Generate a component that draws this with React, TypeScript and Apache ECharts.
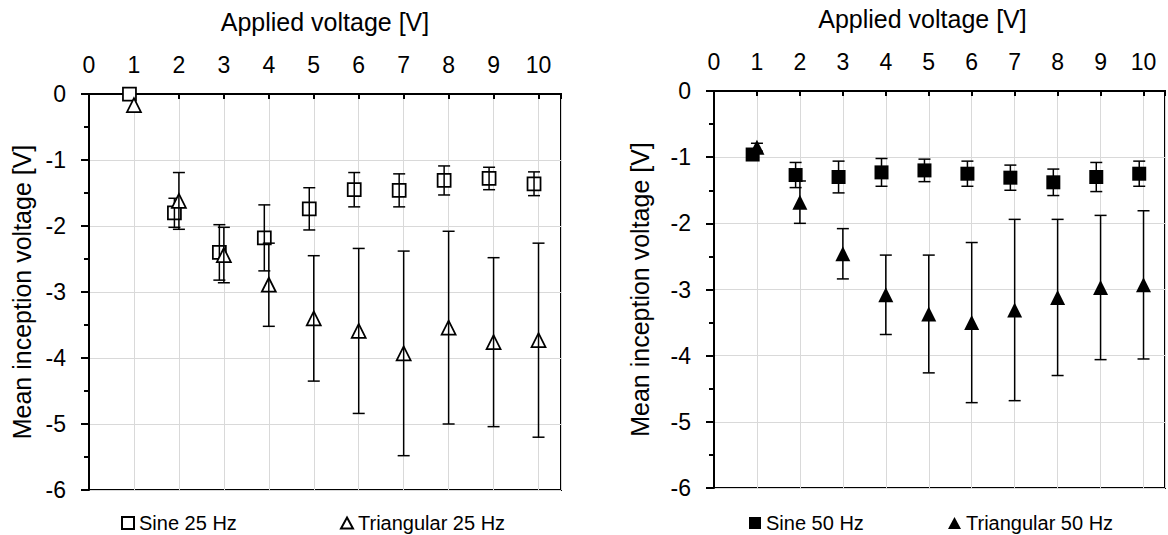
import React, { useEffect, useRef } from "react";
import * as echarts from "echarts";

// ---- data ----
const voltages = [1, 2, 3, 4, 5, 6, 7, 8, 9, 10];
const xTickLabels = ["0", "1", "2", "3", "4", "5", "6", "7", "8", "9", "10"];

const sine25Mean = [0, -1.8, -2.4, -2.18, -1.74, -1.45, -1.46, -1.31, -1.28, -1.36];
const sine25Err = [0, 0.22, 0.42, 0.5, 0.32, 0.26, 0.25, 0.22, 0.17, 0.18];
const tri25Mean = [-0.17, -1.62, -2.44, -2.89, -3.4, -3.59, -3.93, -3.54, -3.76, -3.73];
const tri25Err = [0, 0.43, 0.42, 0.63, 0.95, 1.25, 1.55, 1.46, 1.28, 1.47];

const sine50Mean = [-0.96, -1.27, -1.3, -1.23, -1.2, -1.25, -1.31, -1.38, -1.3, -1.25];
const sine50Err = [0.05, 0.19, 0.24, 0.21, 0.17, 0.19, 0.19, 0.2, 0.22, 0.19];
const tri50Mean = [-0.85, -1.68, -2.46, -3.08, -3.37, -3.5, -3.31, -3.12, -2.97, -2.93];
const tri50Err = [0.06, 0.32, 0.38, 0.6, 0.89, 1.21, 1.37, 1.18, 1.09, 1.12];

// sine markers are drawn slightly left of each applied voltage
const SINE_SHIFT = -0.1;

const FONT = "'Liberation Sans', Arial, Helvetica, sans-serif";
const GRID_COLOR = "#d9d9d9";

function makeX(gridIndex: number, nameGap: number, namePadRight: number) {
  return {
    type: "value",
    gridIndex,
    position: "top",
    min: 0,
    max: 10.5,
    interval: 1,
    name: "Applied voltage [V]",
    nameLocation: "middle",
    nameGap,
    nameTextStyle: { fontSize: 25, color: "#000", fontFamily: FONT, padding: [0, namePadRight, 0, 0] },
    axisLine: { show: true, onZero: false, lineStyle: { color: "#000", width: 2 } },
    axisTick: { show: true, inside: true, length: 5, lineStyle: { color: "#000", width: 2 } },
    axisLabel: {
      fontSize: 23,
      color: "#000",
      fontFamily: FONT,
      margin: 18,
      formatter: (v: number) => (Number.isInteger(v) ? xTickLabels[v] ?? "" : ""),
    },
    splitLine: { show: true, lineStyle: { color: GRID_COLOR, width: 1 } },
  };
}

function makeY(gridIndex: number, nameGap: number) {
  return {
    type: "value",
    gridIndex,
    min: -6,
    max: 0,
    interval: 1,
    name: "Mean inception voltage [V]",
    nameLocation: "middle",
    nameGap,
    nameRotate: 90,
    nameTextStyle: { fontSize: 25, color: "#000", fontFamily: FONT },
    axisLine: { show: true, onZero: false, lineStyle: { color: "#000", width: 2 } },
    axisTick: { show: true, length: 8, lineStyle: { color: "#000", width: 2 } },
    minorTick: { show: true, splitNumber: 2, length: 5, lineStyle: { color: "#000", width: 2 } },
    axisLabel: { fontSize: 23, color: "#000", fontFamily: FONT, margin: 23 },
    splitLine: { show: true, lineStyle: { color: GRID_COLOR, width: 1 } },
  };
}

function errRender(params: any, api: any) {
  const x = api.value(0);
  const y = api.value(1);
  const e = api.value(2);
  if (!e) return { type: "group", children: [] };
  const top = api.coord([x, y + e]);
  const bot = api.coord([x, y - e]);
  const hw = 6;
  const style = { stroke: "#000", lineWidth: 1.5 };
  return {
    type: "group",
    children: [
      { type: "line", shape: { x1: top[0], y1: top[1], x2: bot[0], y2: bot[1] }, style },
      { type: "line", shape: { x1: top[0] - hw, y1: top[1], x2: top[0] + hw, y2: top[1] }, style },
      { type: "line", shape: { x1: bot[0] - hw, y1: bot[1], x2: bot[0] + hw, y2: bot[1] }, style },
    ],
  };
}

function scatter(
  name: string,
  idx: number,
  shift: number,
  mean: number[],
  symbol: string,
  filled: boolean,
  size: number,
  z: number
) {
  return {
    type: "scatter",
    name,
    xAxisIndex: idx,
    yAxisIndex: idx,
    data: voltages.map((v, i) => [v + shift, mean[i]]),
    symbol,
    symbolSize: size,
    itemStyle: {
      color: filled ? "#000" : "#fff",
      borderColor: "#000",
      borderWidth: filled ? 0 : 1.75,
      opacity: 1,
    },
    emphasis: { disabled: true },
    z,
  };
}

function errors(idx: number, shift: number, mean: number[], err: number[], z: number) {
  return {
    type: "custom",
    xAxisIndex: idx,
    yAxisIndex: idx,
    data: voltages.map((v, i) => [v + shift, mean[i], err[i]]),
    encode: { x: 0, y: 1 },
    renderItem: errRender,
    silent: true,
    z,
  };
}

function legend(name: string, left: number, w: number, h: number) {
  return {
    data: [name],
    left,
    top: 508,
    itemWidth: w,
    itemHeight: h,
    selectedMode: false,
    textStyle: { fontSize: 20, color: "#000", fontFamily: FONT },
  };
}

export default function App() {
  const ref = useRef<HTMLDivElement>(null);
  useEffect(() => {
    if (!ref.current) return;
    const chart = echarts.init(ref.current, undefined, { renderer: "svg" });
    chart.setOption({
      animation: false,
      backgroundColor: "#fff",
      textStyle: { fontFamily: FONT },
      grid: [
        { left: 89, top: 94, width: 472, height: 396, show: true, borderColor: "#000", borderWidth: 2, backgroundColor: "transparent" },
        { left: 714, top: 91, width: 456, height: 397, show: true, borderColor: "#000", borderWidth: 2, backgroundColor: "transparent" },
      ],
      xAxis: [makeX(0, 60, 0), makeX(1, 60, 34)],
      yAxis: [makeY(0, 55), makeY(1, 62)],
      legend: [
        legend("Sine 25 Hz", 116, 12, 12),
        legend("Triangular 25 Hz", 335, 12, 11),
        legend("Sine 50 Hz", 744, 12, 12),
        legend("Triangular 50 Hz", 943, 13, 12),
      ],
      series: [
        scatter("Sine 25 Hz", 0, SINE_SHIFT, sine25Mean, "rect", false, 13, 2),
        errors(0, SINE_SHIFT, sine25Mean, sine25Err, 3),
        scatter("Triangular 25 Hz", 0, 0, tri25Mean, "triangle", false, 14, 4),
        errors(0, 0, tri25Mean, tri25Err, 5),
        scatter("Sine 50 Hz", 1, SINE_SHIFT, sine50Mean, "rect", true, 14, 2),
        errors(1, SINE_SHIFT, sine50Mean, sine50Err, 3),
        scatter("Triangular 50 Hz", 1, 0, tri50Mean, "triangle", true, 15, 4),
        errors(1, 0, tri50Mean, tri50Err, 5),
      ],
    });
    return () => chart.dispose();
  }, []);
  return (
    <div
      ref={ref}
      style={{ position: "absolute", left: 0, top: 0, width: 1168, height: 535, background: "#fff" }}
    />
  );
}
